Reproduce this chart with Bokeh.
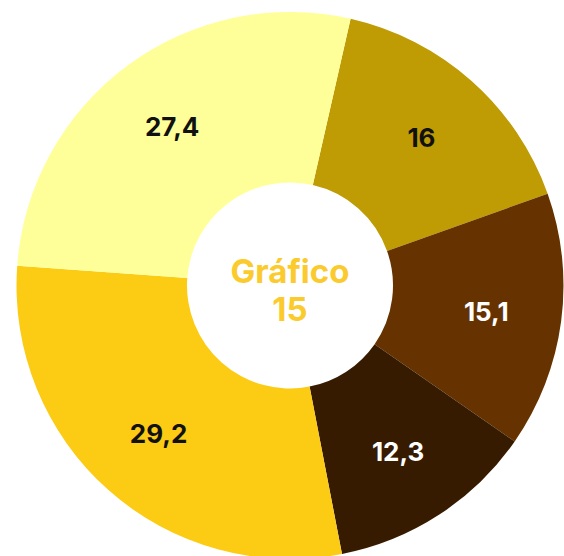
import numpy as np
from bokeh.plotting import figure
from bokeh.models import ColumnDataSource, Range1d
from bokeh.core.properties import value
from bokeh.embed import file_html
from bokeh.resources import INLINE

# ---- data ----
categories = ["A", "B", "C", "D", "E"]
values = [16.0, 15.1, 12.3, 29.2, 27.4]
value_labels = ["16", "15,1", "12,3", "29,2", "27,4"]
slice_colors = ["#BF9B04", "#663300", "#371B00", "#FCCB14", "#FFFF99"]
label_colors = ["#111111", "#FFFFFF", "#FFFFFF", "#111111", "#111111"]
center_lines = ["Gráfico", "15"]

# ---- layout ----
W, H = 564, 556
cx, cy = 289.5, 271.0
R_out, R_in = 273.5, 103.0
start_deg = 90.0 - 12.8  # first slice starts 12.8 deg clockwise from top
label_r = 198.0
FONT = "Inter"

vals = np.array(values)
frac = vals / vals.sum()
cum = np.concatenate([[0.0], np.cumsum(frac)]) * 360.0
starts = start_deg - cum[:-1]
ends = start_deg - cum[1:]
mids = np.deg2rad((starts + ends) / 2.0)

src = ColumnDataSource(dict(
    cat=categories, start=starts, end=ends, color=slice_colors,
    lx=cx + label_r * np.cos(mids), ly=cy + label_r * np.sin(mids),
    label=value_labels, tcolor=label_colors,
))

p = figure(width=W, height=H, x_range=Range1d(0, W), y_range=Range1d(0, H),
           output_backend="svg", toolbar_location=None,
           x_axis_type=None, y_axis_type=None, min_border=0)
p.grid.visible = False
p.outline_line_color = None
p.background_fill_color = "white"

p.annular_wedge(x=cx, y=cy, inner_radius=R_in, outer_radius=R_out,
                inner_radius_units="screen", outer_radius_units="screen",
                start_angle="start", end_angle="end", start_angle_units="deg",
                end_angle_units="deg", direction="clock",
                fill_color="color", line_color=None, source=src)

p.text(x="lx", y="ly", text="label", text_color="tcolor", source=src,
       text_font=value(FONT), text_font_style="bold", text_font_size="26px",
       text_align="center", text_baseline="middle")

csrc = ColumnDataSource(dict(x=[cx, cx], y=[cy + 15.0, cy - 23.0], t=center_lines))
p.text(x="x", y="y", text="t", source=csrc, text_color="#FBCB2D",
       text_font=value(FONT), text_font_style="bold", text_font_size="33px",
       text_align="center", text_baseline="middle")

open("out.html", "w").write(file_html(p, INLINE))
